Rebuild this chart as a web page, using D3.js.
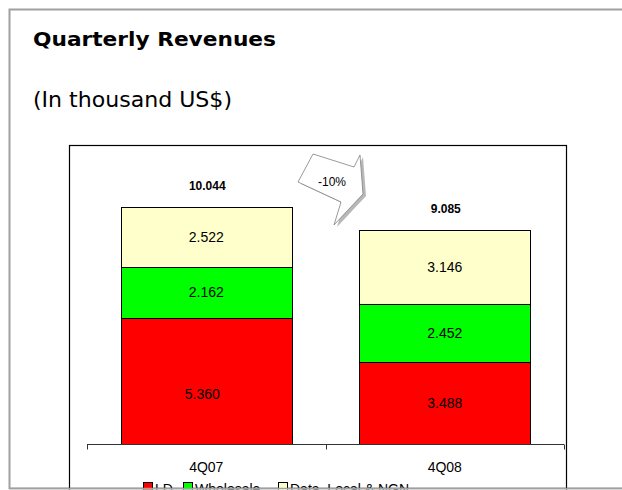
<!DOCTYPE html>
<html>
<head>
<meta charset="utf-8">
<script src="https://cdn.jsdelivr.net/npm/d3@7"></script>
<style>
	body { margin: 0; background: #fff; }
	svg { display: block; }
</style>
</head>
<body>
<svg class="chart"></svg>
<script>
// chart data
var quarters = ["4Q07", "4Q08"];
var series = ["LD", "Wholesale", "Data, Local & NGN"];
var ldValues = [5360, 3488];
var wholesaleValues = [2162, 2452];
var dataValues = [2522, 3146];
var totals = [10044, 9085];
var labelText = [["5.360", "2.162", "2.522"], ["3.488", "2.452", "3.146"]];
var totalText = ["10.044", "9.085"];
var colors = ["#ff0000", "#00ff00", "#ffffcc"];

var width = 622, height = 490;

var svg = d3.select("svg.chart")
	.attr("width", width)
	.attr("height", height);

// outer panel frame (top, left and bottom only, right side runs off the page)
svg.append("path")
	.attr("d", "M" + width + ",9.5H9.5V488.5H" + width)
	.attr("fill", "none")
	.attr("stroke", "#a0a0a0")
	.attr("stroke-width", 2);

// titles
svg.append("text")
	.attr("x", 33).attr("y", 46)
	.attr("font-family", "DejaVu Sans")
	.attr("font-weight", "bold")
	.attr("font-size", 20)
	.attr("textLength", 243)
	.attr("lengthAdjust", "spacingAndGlyphs")
	.text("Quarterly Revenues");

svg.append("text")
	.attr("x", 33).attr("y", 107)
	.attr("font-family", "DejaVu Sans")
	.attr("font-size", 22)
	.attr("textLength", 199)
	.attr("lengthAdjust", "spacingAndGlyphs")
	.text("(In thousand US$)");

// inner chart frame
svg.append("rect")
	.attr("x", 69.5).attr("y", 145.5)
	.attr("width", 497).attr("height", 360)
	.attr("fill", "none")
	.attr("stroke", "#000")
	.attr("stroke-width", 1.2);

// scales
var x = d3.scaleBand()
	.domain(quarters)
	.range([87, 564])
	.padding(0);

var y = d3.scaleLinear()
	.domain([0, 12000])
	.range([444, 444 - 12000 * 237 / 10044]);

var barW = x.bandwidth() * 0.717;

// stack the series
var rows = quarters.map(function(q, i) {
	return {quarter: q, LD: ldValues[i], Wholesale: wholesaleValues[i], "Data, Local & NGN": dataValues[i]};
});
var stack = d3.stack().keys(series)(rows);

var layers = svg.append("g").selectAll("g")
	.data(stack)
	.enter()
	.append("g")
	.attr("fill", function(d, i) { return colors[i]; });

layers.selectAll("rect")
	.data(function(d) { return d; })
	.enter()
	.append("rect")
	.attr("x", function(d) { return Math.round(x(d.data.quarter) + (x.bandwidth() - barW) / 2) + 0.5; })
	.attr("y", function(d) { return Math.round(y(d[1])) + 0.5; })
	.attr("width", Math.round(barW))
	.attr("height", function(d) { return Math.round(y(d[0])) - Math.round(y(d[1])); })
	.attr("stroke", "#000")
	.attr("stroke-width", 1);

// small nudge, the first LD label sits low in the original
var nudge = {"0-0": [-4, 13]};

layers.each(function(layer, si) {
	d3.select(this).selectAll("text")
		.data(layer)
		.enter()
		.append("text")
		.attr("x", function(d, qi) {
			var n = nudge[qi + "-" + si] || [0, 0];
			return x(d.data.quarter) + x.bandwidth() / 2 + n[0];
		})
		.attr("y", function(d, qi) {
			var n = nudge[qi + "-" + si] || [0, 0];
			return (y(d[0]) + y(d[1])) / 2 + 5 + n[1];
		})
		.attr("text-anchor", "middle")
		.attr("fill", "#000")
		.attr("font-family", "Liberation Sans, Arial")
		.attr("font-size", 14)
		.text(function(d, qi) { return labelText[qi][si]; });
});

// totals
svg.append("g").selectAll("text")
	.data(totals)
	.enter()
	.append("text")
	.attr("x", function(d, i) { return x(quarters[i]) + x.bandwidth() / 2 + 1; })
	.attr("y", function(d) { return y(d) - 17; })
	.attr("text-anchor", "middle")
	.attr("fill", "#000")
	.attr("font-family", "Liberation Sans, Arial")
	.attr("font-weight", "bold")
	.attr("font-size", 12)
	.text(function(d, i) { return totalText[i]; });

// x axis
var xAxis = d3.axisBottom(x).tickSize(0).tickPadding(18);
var gx = svg.append("g")
	.attr("transform", "translate(0,444.5)")
	.call(xAxis);
gx.select(".domain").remove();
gx.selectAll("text")
	.attr("font-family", "Liberation Sans, Arial")
	.attr("font-size", 14)
	.attr("fill", "#000");
gx.append("line")
	.attr("x1", 87).attr("x2", 564)
	.attr("stroke", "#333");
// category separators
var edges = [87, x(quarters[1]), 564];
gx.selectAll(".sep")
	.data(edges)
	.enter()
	.append("line")
	.attr("x1", function(d) { return Math.round(d) + 0.5; })
	.attr("x2", function(d) { return Math.round(d) + 0.5; })
	.attr("y1", 0).attr("y2", 5)
	.attr("stroke", "#333");

// change callout arrow
var arrowPts = [[313, 154], [354, 167], [360, 155], [363, 194], [334, 225], [341, 202], [298, 182]];
var arrowLine = d3.line();
svg.append("path")
	.attr("d", arrowLine(arrowPts) + "Z")
	.attr("transform", "translate(3,2)")
	.attr("fill", "#b8b8b8");
svg.append("path")
	.attr("d", arrowLine(arrowPts) + "Z")
	.attr("fill", "#fff")
	.attr("stroke", "#808080")
	.attr("stroke-width", 0.8);
svg.append("text")
	.attr("x", 332).attr("y", 186)
	.attr("text-anchor", "middle")
	.attr("fill", "#000")
	.attr("font-family", "Liberation Sans, Arial")
	.attr("font-size", 12)
	.text("-10%");

// legend
var legendX = [143, 183, 278];
var legend = svg.append("g").selectAll("g")
	.data(series)
	.enter()
	.append("g")
	.attr("transform", function(d, i) { return "translate(" + legendX[i] + ",482)"; });
legend.append("rect")
	.attr("x", 0.5).attr("y", 0.5)
	.attr("width", 9).attr("height", 9)
	.attr("fill", function(d, i) { return colors[i]; })
	.attr("stroke", "#000");
legend.append("text")
	.attr("x", 12).attr("y", 12)
	.attr("fill", "#000")
	.attr("font-family", "Liberation Sans, Arial")
	.attr("font-size", 14)
	.text(function(d) { return d; });

// cover below the panel frame
svg.append("rect")
	.attr("x", 0).attr("y", 489.5)
	.attr("width", width).attr("height", 2)
	.attr("fill", "#fff");
svg.append("line")
	.attr("x1", 9).attr("x2", width)
	.attr("y1", 488.5).attr("y2", 488.5)
	.attr("stroke", "#a0a0a0")
	.attr("stroke-width", 1.5);
</script>
</body>
</html>
